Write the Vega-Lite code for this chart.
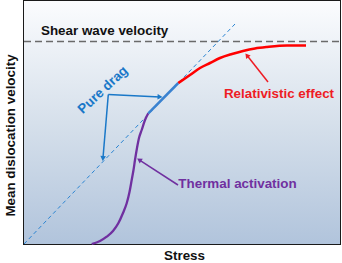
{
  "$schema": "https://vega.github.io/schema/vega-lite/v6.json",
  "autosize": "none",
  "width": 316,
  "height": 243,
  "padding": {"left": 24, "top": 1, "right": 2, "bottom": 19},
  "background": "white",
  "config": {
    "view": {"stroke": "#1a1a1a", "strokeWidth": 2},
    "font": "Liberation Sans"
  },
  "datasets": {
    "shear": [{"x": 0, "y": 202.5}, {"x": 316, "y": 202.5}],
    "drag": [{"x": 0, "y": 0}, {"x": 211, "y": 220}],
    "thermal": [
      {"x": 67.7, "y": 0}, {"x": 76, "y": 3}, {"x": 82.7, "y": 7.3}, {"x": 89, "y": 13},
      {"x": 94.3, "y": 20.7}, {"x": 99, "y": 31}, {"x": 102.7, "y": 40.7}, {"x": 105.5, "y": 52},
      {"x": 107.7, "y": 64}, {"x": 109.5, "y": 74}, {"x": 111, "y": 84}, {"x": 113, "y": 96},
      {"x": 115, "y": 106}, {"x": 117.7, "y": 114}, {"x": 121, "y": 124}, {"x": 124.3, "y": 130.7}
    ],
    "solid": [{"x": 124.3, "y": 130.7}, {"x": 154.3, "y": 161}],
    "relativistic": [
      {"x": 154.3, "y": 161}, {"x": 166, "y": 169}, {"x": 176, "y": 176}, {"x": 186, "y": 181},
      {"x": 196, "y": 186}, {"x": 208, "y": 190}, {"x": 219, "y": 193}, {"x": 231, "y": 195.5},
      {"x": 243, "y": 197}, {"x": 263, "y": 198.5}, {"x": 282, "y": 198.5}
    ],
    "arrows": [
      {"arrow": "drag-h", "series": "drag", "x": 84.3, "y": 149.5, "x2": 136, "y2": 147.1},
      {"arrow": "drag-v", "series": "drag", "x": 84.3, "y": 149.5, "x2": 78.95, "y2": 85.5},
      {"arrow": "rel", "series": "relativistic", "x": 244, "y": 162, "x2": 222.9, "y2": 188.7},
      {"arrow": "therm", "series": "thermal", "x": 154, "y": 59, "x2": 115.2, "y2": 84.1}
    ],
    "labels": [
      {"label": "Pure drag", "series": "drag", "x": 79, "y": 154},
      {"label": "Relativistic effect", "series": "relativistic", "x": 255, "y": 149.7},
      {"label": "Thermal activation", "series": "thermal", "x": 213.5, "y": 59.7},
      {"label": "Shear wave velocity", "series": "shear", "x": 17, "y": 213}
    ]
  },
  "encoding": {
    "x": {"type": "quantitative", "scale": {"domain": [0, 316], "nice": false, "zero": false},
      "axis": {"title": "Stress", "domain": false, "ticks": false, "labels": false, "grid": false,
        "titleFontSize": 13.4, "titleFontWeight": "bold", "titleColor": "#111", "titlePadding": 4, "titleX": 160}},
    "y": {"type": "quantitative", "scale": {"domain": [0, 243], "nice": false, "zero": false},
      "axis": {"title": "Mean dislocation velocity", "domain": false, "ticks": false, "labels": false, "grid": false,
        "titleFontSize": 13.4, "titleFontWeight": "bold", "titleColor": "#111", "titlePadding": 7, "titleY": 134}},
    "color": {"field": "series", "type": "nominal", "legend": null,
      "scale": {"domain": ["drag", "relativistic", "thermal", "shear"], "range": ["#1a78c8", "#ee1c24", "#7030a0", "#111111"]}}
  },
  "layer": [
    {
      "data": {"values": [{}]},
      "mark": {"type": "rect", "fill": {"gradient": "linear", "x1": 0, "y1": 0, "x2": 0, "y2": 1,
        "stops": [{"offset": 0, "color": "#fbfcfe"}, {"offset": 0.5, "color": "#d6e0eb"}, {"offset": 1, "color": "#b1c4dc"}]}},
      "encoding": {"x": {"datum": 0}, "x2": {"datum": 316}, "y": {"datum": 0}, "y2": {"datum": 243}, "color": null}
    },
    {
      "data": {"name": "shear"},
      "mark": {"type": "line", "color": "#6a6a6a", "strokeWidth": 1.5, "strokeDash": [7, 4]},
      "encoding": {"x": {"field": "x"}, "y": {"field": "y"}, "color": null}
    },
    {
      "data": {"name": "drag"},
      "mark": {"type": "line", "color": "#2a84d2", "strokeWidth": 1, "strokeDash": [4, 3]},
      "encoding": {"x": {"field": "x"}, "y": {"field": "y"}, "color": null}
    },
    {
      "data": {"name": "thermal"},
      "mark": {"type": "line", "color": "#7030a0", "strokeWidth": 2.3, "interpolate": "monotone"},
      "encoding": {"x": {"field": "x"}, "y": {"field": "y"}, "color": null}
    },
    {
      "data": {"name": "solid"},
      "mark": {"type": "line", "color": "#3a82d0", "strokeWidth": 2.5},
      "encoding": {"x": {"field": "x"}, "y": {"field": "y"}, "color": null}
    },
    {
      "data": {"name": "relativistic"},
      "mark": {"type": "line", "color": "#ff0000", "strokeWidth": 2.6, "interpolate": "monotone"},
      "encoding": {"x": {"field": "x"}, "y": {"field": "y"}, "color": null}
    },
    {
      "data": {"name": "arrows"},
      "mark": {"type": "rule", "strokeWidth": 1.5},
      "encoding": {"x": {"field": "x"}, "y": {"field": "y"}, "x2": {"field": "x2"}, "y2": {"field": "y2"}}
    },
    {
      "data": {"name": "arrows"},
      "transform": [{"filter": "datum.arrow == 'drag-h'"}],
      "mark": {"type": "point", "shape": "triangle-up", "filled": true, "opacity": 1, "size": 32, "angle": 92.6},
      "encoding": {"x": {"field": "x2"}, "y": {"field": "y2"}}
    },
    {
      "data": {"name": "arrows"},
      "transform": [{"filter": "datum.arrow == 'drag-v'"}],
      "mark": {"type": "point", "shape": "triangle-up", "filled": true, "opacity": 1, "size": 32, "angle": 185},
      "encoding": {"x": {"field": "x2"}, "y": {"field": "y2"}}
    },
    {
      "data": {"name": "arrows"},
      "transform": [{"filter": "datum.arrow == 'rel'"}],
      "mark": {"type": "point", "shape": "triangle-up", "filled": true, "opacity": 1, "size": 32, "angle": 321.6},
      "encoding": {"x": {"field": "x2"}, "y": {"field": "y2"}}
    },
    {
      "data": {"name": "arrows"},
      "transform": [{"filter": "datum.arrow == 'therm'"}],
      "mark": {"type": "point", "shape": "triangle-up", "filled": true, "opacity": 1, "size": 32, "angle": 303},
      "encoding": {"x": {"field": "x2"}, "y": {"field": "y2"}}
    },
    {
      "data": {"name": "labels"},
      "transform": [{"filter": "datum.label == 'Pure drag'"}],
      "mark": {"type": "text", "fontWeight": "bold", "fontSize": 13.4, "align": "center", "baseline": "middle", "angle": 317},
      "encoding": {"x": {"field": "x"}, "y": {"field": "y"}, "text": {"field": "label"}}
    },
    {
      "data": {"name": "labels"},
      "transform": [{"filter": "datum.label == 'Relativistic effect' || datum.label == 'Thermal activation'"}],
      "mark": {"type": "text", "fontWeight": "bold", "fontSize": 13.4, "align": "center", "baseline": "middle"},
      "encoding": {"x": {"field": "x"}, "y": {"field": "y"}, "text": {"field": "label"}}
    },
    {
      "data": {"name": "labels"},
      "transform": [{"filter": "datum.label == 'Shear wave velocity'"}],
      "mark": {"type": "text", "fontWeight": "bold", "fontSize": 13.4, "align": "left", "baseline": "middle"},
      "encoding": {"x": {"field": "x"}, "y": {"field": "y"}, "text": {"field": "label"}}
    }
  ]
}
